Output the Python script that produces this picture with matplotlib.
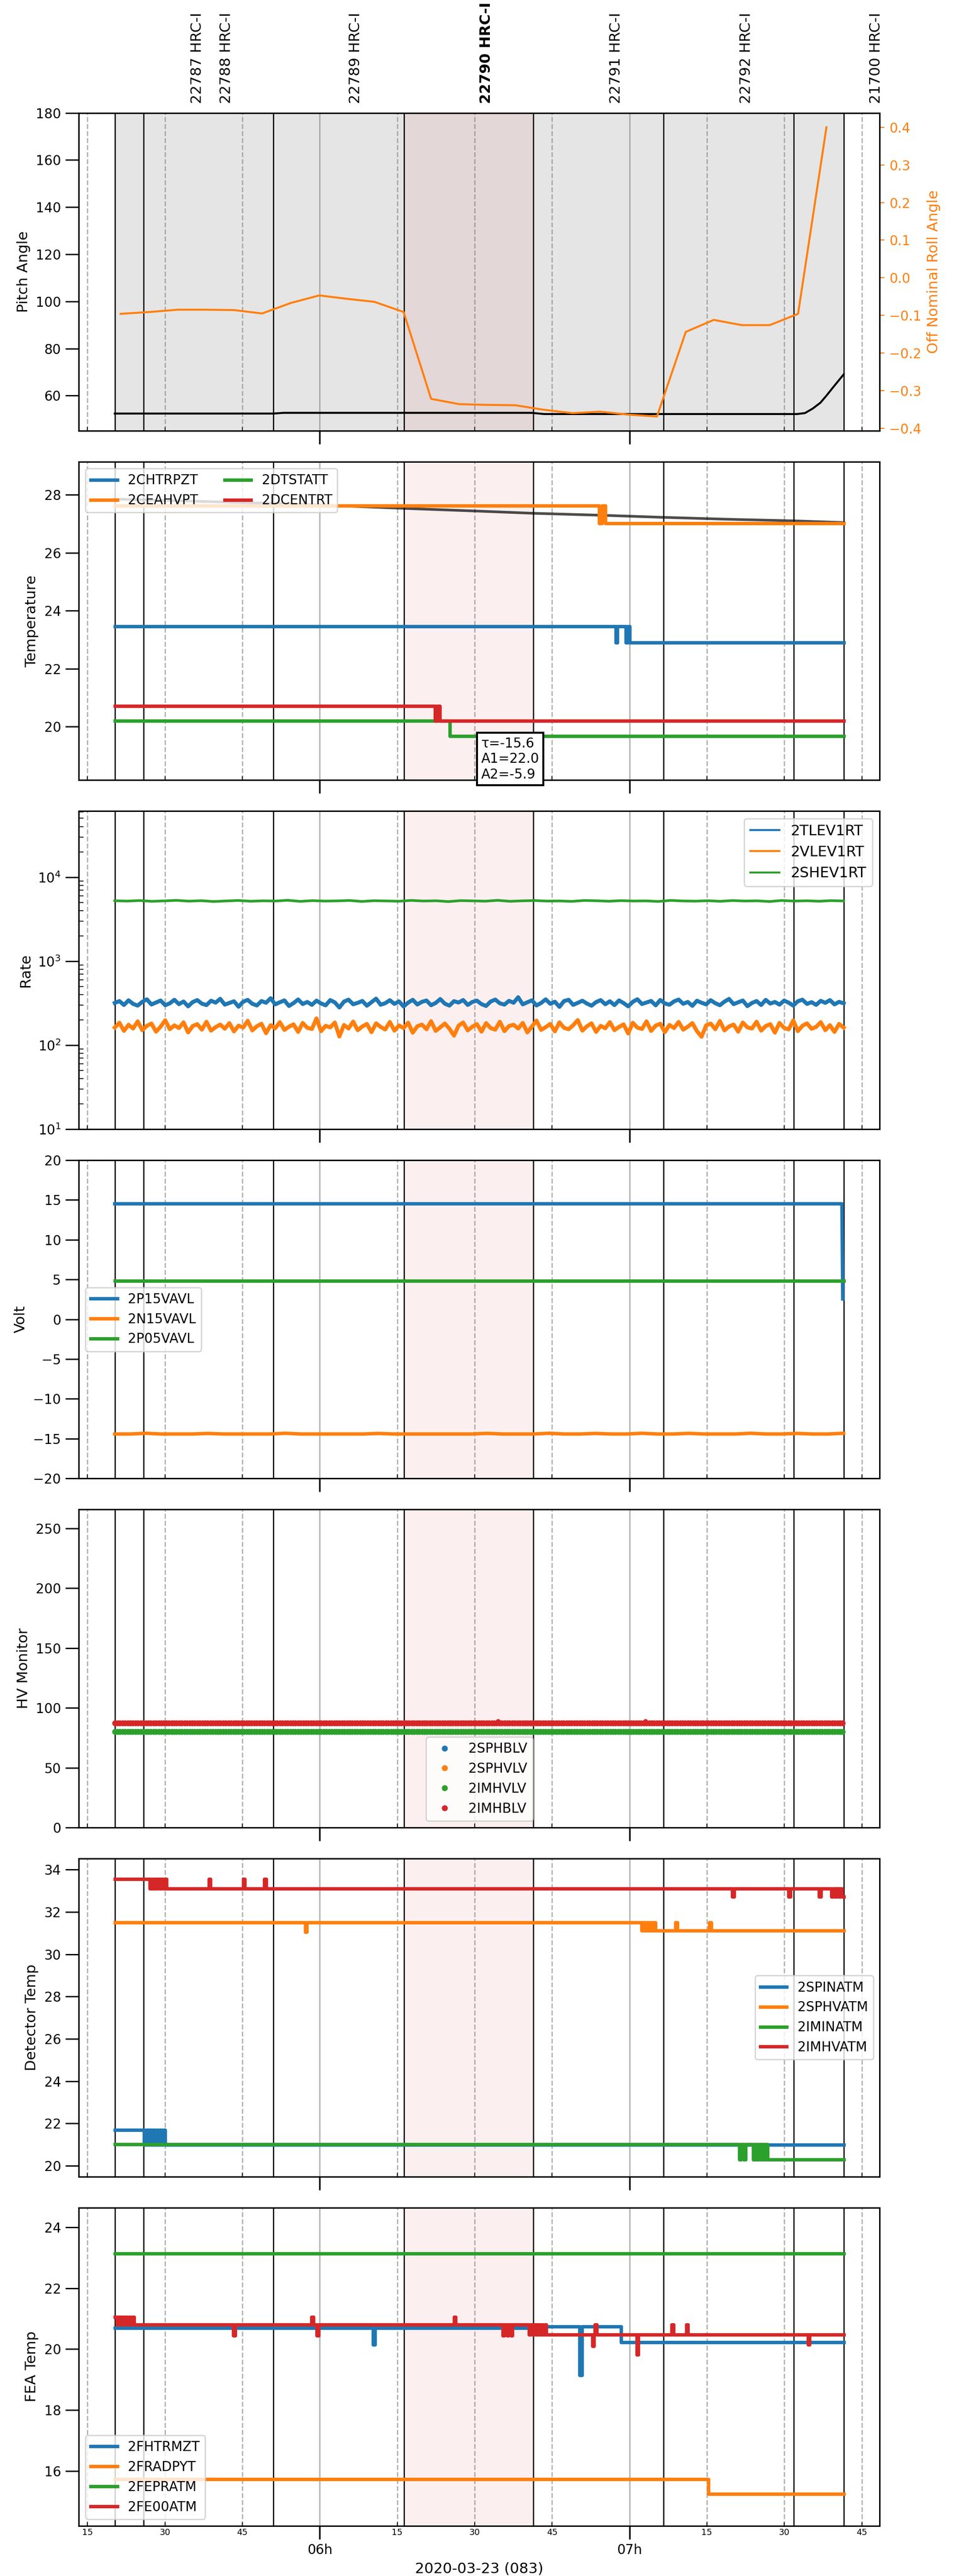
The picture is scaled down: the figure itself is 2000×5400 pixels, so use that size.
import matplotlib
matplotlib.use("Agg")
import matplotlib.pyplot as plt
import matplotlib.dates as mdates
import matplotlib.transforms as mtransforms
from matplotlib.ticker import MultipleLocator
import numpy as np
import pandas as pd

DAY = "2020-03-23 "
T_START = "05:20:18"
T_END = "07:41:30"
X_MIN = "05:13:21"
X_MAX = "07:48:30"

# observations
obsids = ["22787", "22788", "22789", "22790", "22791", "22792", "21700"]
obsid_start = ["05:20:18", "05:25:55", "05:51:00", "06:16:18", "06:41:24", "07:06:36", "07:31:48"]
obsid_label_at = ["05:36:18", "05:41:55", "06:07:00", "06:32:18", "06:57:24", "07:22:36", "07:47:48"]
hl_obsid = "22790"
hl_span = ["06:16:18", "06:41:24"]

# panel 1: pitch and roll
pitch_t = ["05:20:18", "05:51:00", "05:53:00", "06:41:00", "06:43:30", "07:32:30",
           "07:34:00", "07:35:30", "07:37:00", "07:38:10", "07:39:40", "07:41:30"]
pitch_v = [52.4, 52.4, 52.7, 52.7, 52.2, 52.2, 52.6, 54.5, 57.0, 60.0, 64.1, 69.0]
roll_t = ["05:21:25", "05:27:05", "05:32:30", "05:37:55", "05:43:25", "05:48:50", "05:54:25",
          "05:59:55", "06:05:15", "06:10:35", "06:16:15", "06:21:35", "06:27:00", "06:32:20",
          "06:37:55", "06:43:25", "06:49:00", "06:54:20", "06:59:50", "07:05:20", "07:10:55",
          "07:16:20", "07:21:45", "07:27:10", "07:32:40", "07:38:10"]
roll_v = [-0.096, -0.091, -0.085, -0.085, -0.086, -0.095, -0.067, -0.047, -0.056, -0.064,
          -0.091, -0.322, -0.336, -0.338, -0.339, -0.351, -0.360, -0.356, -0.364, -0.369,
          -0.144, -0.112, -0.126, -0.126, -0.096, 0.400]

# panel 2: temperature
tmodel_t = ["05:20:18", "05:35:00", "05:51:00", "06:05:00", "06:16:18", "06:30:00",
            "06:41:24", "06:55:00", "07:06:36", "07:20:00", "07:31:48", "07:41:30"]
tmodel_v = [27.85, 27.78, 27.70, 27.61, 27.53, 27.44, 27.36, 27.29, 27.22, 27.15, 27.10, 27.04]
chtrpzt_t = ["05:20:18", "06:57:20", "06:57:40", "06:59:20", "06:59:40", "07:00:00", "07:00:20", "07:41:30"]
chtrpzt_v = [23.47, 22.91, 23.47, 22.91, 23.47, 22.91, 22.91, 22.91]
ceahvpt_t = ["05:20:18", "06:54:10", "06:54:40", "06:55:20", "07:41:30"]
ceahvpt_v = [27.62, 27.01, 27.62, 27.01, 27.01]
dtstatt_t = ["05:20:18", "06:25:10", "07:41:30"]
dtstatt_v = [20.20, 19.68, 19.68]
dcentrt_t = ["05:20:18", "06:22:20", "06:22:45", "06:23:15", "07:41:30"]
dcentrt_v = [20.72, 20.20, 20.72, 20.20, 20.20]
fit_text = "τ=-15.6\nA1=22.0\nA2=-5.9"

# panel 3: rates (sampled evenly between T_START and T_END)
tlev1rt = [
    318, 335, 301, 342, 310, 296, 328, 351, 305, 322, 340, 299, 315, 347, 308, 331, 290, 326, 344, 312,
    300, 338, 321, 356, 304, 318, 333, 287, 329, 346, 311, 297, 335, 320, 362, 306, 324, 341, 293, 317,
    350, 309, 327, 302, 339, 314, 298, 344, 323, 281, 330, 348, 307, 319, 336, 295, 325, 358, 303, 316,
    343, 310, 332, 289, 321, 347, 305, 328, 340, 299, 318, 354, 312, 296, 334, 322, 345, 301, 327, 339,
    308, 293, 331, 349, 315, 304, 337, 320, 372, 306, 324, 342, 297, 318, 351, 311, 329, 286, 335, 347,
    302, 319, 338, 313, 295, 326, 344, 307, 333, 300, 341, 317, 290, 328, 352, 309, 322, 336, 298, 345,
    314, 303, 332, 349, 311, 327, 294, 338, 320, 306, 343, 316, 299, 330, 355, 308, 324, 340, 292, 318,
    335, 301, 346, 313, 327, 304, 339, 321, 296, 333, 348, 310, 325, 302, 337, 319, 344, 306, 328, 315]
vlev1rt = [
    162, 185, 148, 175, 158, 192, 151, 170, 181, 145, 166, 198, 155, 172, 160, 187, 142, 169, 178, 153,
    190, 149, 164, 176, 157, 183, 146, 171, 162, 195, 150, 168, 180, 139, 173, 159, 188, 152, 166, 177,
    144, 184, 161, 156, 208, 147, 170, 163, 186, 127, 174, 158, 191, 151, 167, 179, 143, 182, 165, 154,
    189, 149, 172, 160, 185, 141, 168, 176, 155, 193, 148, 163, 181, 157, 130, 171, 186, 150, 166, 178,
    145, 183, 160, 153, 190, 147, 169, 175, 158, 184, 142, 167, 196, 152, 164, 179, 146, 187, 161, 155,
    173, 199, 149, 168, 182, 144, 170, 159, 188, 151, 165, 177, 138, 185, 162, 156, 192, 148, 171, 180,
    143, 174, 160, 189, 153, 166, 183, 147, 126, 172, 181, 155, 194, 150, 167, 176, 145, 186, 163, 158,
    190, 149, 169, 178, 141, 184, 161, 154, 197, 147, 170, 182, 157, 165, 188, 151, 173, 144, 179, 162]
shev1rt = [
    5230, 5180, 5260, 5150, 5210, 5290, 5170, 5240, 5120, 5200, 5270, 5160, 5220, 5190, 5300, 5140,
    5250, 5180, 5210, 5270, 5130, 5240, 5200, 5160, 5280, 5190, 5230, 5110, 5250, 5210, 5170, 5290,
    5150, 5220, 5260, 5180, 5200, 5140, 5270, 5230, 5160, 5250, 5190, 5210, 5130, 5280, 5200, 5170,
    5240, 5150, 5260, 5190, 5220, 5120, 5270, 5180, 5230, 5160, 5250, 5200]

# panel 4: volts
p15vavl_t = ["05:20:18", "07:41:10", "07:41:20"]
p15vavl_v = [14.52, 14.52, 2.56]
p05vavl_t = ["05:20:18", "07:41:30"]
p05vavl_v = [4.84, 4.84]
n15vavl = [-14.42, -14.42, -14.33, -14.42, -14.42, -14.42, -14.35, -14.42, -14.42, -14.42, -14.42, -14.33,
           -14.42, -14.42, -14.42, -14.42, -14.42, -14.35, -14.42, -14.42, -14.42, -14.42, -14.42, -14.42,
           -14.34, -14.42, -14.42, -14.42, -14.33, -14.42, -14.42, -14.35, -14.42, -14.42, -14.33, -14.42,
           -14.42, -14.34, -14.42, -14.42, -14.42, -14.33, -14.42, -14.42, -14.35, -14.42, -14.42, -14.33]

# panel 5: HV monitor (30 s telemetry)
hv_cadence = "30s"
sphblv_level = []
sphvlv_level = []
imhvlv_level = 80.3
imhblv_level = 87.2
imhblv_bump_t = ["06:34:35", "07:03:05"]
imhblv_bump_v = [89.0, 89.0]

# panel 6: detector temps
spinatm_t = ["05:20:18", "05:26:00", "05:26:20", "05:26:40", "05:27:00", "05:27:20", "05:27:40", "05:28:00",
             "05:28:20", "05:28:40", "05:29:00", "05:29:20", "05:29:40", "05:30:00", "07:41:30"]
spinatm_v = [21.69, 20.99, 21.69, 20.99, 21.69, 20.99, 21.69, 20.99, 21.69, 20.99, 21.69, 20.99, 21.69, 20.99, 20.99]
sphvatm_t = ["05:20:18", "05:57:10", "05:57:30", "07:02:20", "07:02:40", "07:03:00", "07:03:20", "07:03:40",
             "07:04:00", "07:04:20", "07:04:40", "07:05:00", "07:08:55", "07:09:15", "07:15:30", "07:15:50", "07:41:30"]
sphvatm_v = [31.50, 31.05, 31.50, 31.12, 31.50, 31.12, 31.50, 31.12, 31.50, 31.12, 31.50, 31.12,
             31.50, 31.12, 31.50, 31.12, 31.12]
iminatm_t = ["05:20:18", "07:21:20", "07:21:40", "07:22:10", "07:22:30", "07:24:00", "07:24:20", "07:24:40",
             "07:25:00", "07:25:20", "07:25:40", "07:26:00", "07:26:20", "07:26:45", "07:41:30"]
iminatm_v = [21.00, 20.29, 21.00, 20.29, 21.00, 20.29, 21.00, 20.29, 21.00, 20.29, 21.00, 20.29, 21.00, 20.29, 20.29]
imhvatm_t = ["05:20:18", "05:27:05", "05:27:20", "05:27:40", "05:28:00", "05:28:20", "05:28:40", "05:29:00",
             "05:29:20", "05:29:40", "05:30:00", "05:30:20", "05:38:30", "05:38:50", "05:45:10", "05:45:30",
             "05:49:15", "05:49:35", "07:19:55", "07:20:15", "07:30:50", "07:31:10", "07:36:45", "07:37:05",
             "07:39:10", "07:39:30", "07:39:50", "07:40:10", "07:40:30", "07:40:50", "07:41:10", "07:41:30"]
imhvatm_v = [33.55, 33.10, 33.55, 33.10, 33.55, 33.10, 33.55, 33.10, 33.55, 33.10, 33.55, 33.10,
             33.55, 33.10, 33.55, 33.10, 33.55, 33.10, 32.72, 33.10, 32.72, 33.10, 32.72, 33.10,
             32.72, 33.10, 32.72, 33.10, 32.72, 33.10, 32.72, 32.72]

# panel 7: FEA temps
fhtrmzt_t = ["05:20:18", "06:10:20", "06:10:40", "06:41:00", "06:50:20", "06:50:50", "06:58:20", "07:41:30"]
fhtrmzt_v = [20.70, 20.15, 20.70, 20.74, 19.14, 20.74, 20.22, 20.22]
fradpyt_t = ["05:20:18", "07:15:20", "07:41:30"]
fradpyt_v = [15.73, 15.25, 15.25]
fepratm_t = ["05:20:18", "07:41:30"]
fepratm_v = [23.13, 23.13]
fe00atm_t = ["05:20:18", "05:20:40", "05:21:00", "05:21:20", "05:21:40", "05:22:00", "05:22:20", "05:22:40",
             "05:23:00", "05:23:20", "05:23:40", "05:24:00", "05:43:15", "05:43:35", "05:58:25", "05:58:45",
             "05:59:25", "05:59:45", "06:26:00", "06:26:20", "06:35:25", "06:35:45", "06:36:15", "06:36:35",
             "06:37:00", "06:37:20", "06:40:35", "06:40:55", "06:41:15", "06:41:35", "06:41:55", "06:42:15",
             "06:42:35", "06:42:55", "06:43:15", "06:43:35", "06:43:55", "06:52:50", "06:53:05", "06:53:20",
             "06:53:40", "07:01:25", "07:01:45", "07:08:10", "07:08:30", "07:11:00", "07:11:20", "07:34:35",
             "07:34:55", "07:41:30"]
fe00atm_v = [21.05, 20.81, 21.05, 20.81, 21.05, 20.81, 21.05, 20.81, 21.05, 20.81, 21.05, 20.81,
             20.45, 20.81, 21.05, 20.81, 20.45, 20.81, 21.05, 20.81, 20.45, 20.81, 20.45, 20.81,
             20.45, 20.81, 20.47, 20.81, 20.47, 20.81, 20.47, 20.81, 20.47, 20.81, 20.47, 20.81,
             20.47, 20.10, 20.47, 20.81, 20.47, 19.82, 20.47, 20.81, 20.47, 20.81, 20.47, 20.15,
             20.47, 20.47]


def tt(times):
    return pd.to_datetime([DAY + t for t in times])


def even(values):
    return pd.date_range(DAY + T_START, DAY + T_END, periods=len(values))


plt.rcParams["font.size"] = 10
plt.rcParams["axes.linewidth"] = 1.1

fig, axes = plt.subplots(7, 1, figsize=(10, 27), dpi=200, sharex=True,
                         gridspec_kw=dict(hspace=0.0973))
fig.subplots_adjust(left=0.0827, right=0.9222, top=0.9562, bottom=0.0195)
ax1, ax2, ax3, ax4, ax5, ax6, ax7 = axes

for ax in axes:
    ax.axvspan(tt(hl_span)[0], tt(hl_span)[1], color="C3", alpha=0.07, lw=0, zorder=0.8)
    for t in obsid_start + [T_END]:
        ax.axvline(tt([t])[0], color="k", lw=0.9, zorder=1.2)
    ax.xaxis.set_major_locator(mdates.HourLocator())
    ax.xaxis.set_minor_locator(mdates.MinuteLocator(byminute=[15, 30, 45]))
    ax.grid(True, which="major", axis="x", color="0.7", lw=1, ls="-")
    ax.grid(True, which="minor", axis="x", color="0.7", lw=1, ls="--")
    ax.set_axisbelow(True)
    ax.tick_params(axis="x", which="major", length=10, width=1.2)
    ax.tick_params(axis="x", which="minor", length=3, direction="in")
    ax.tick_params(axis="y", which="major", length=10, width=1, labelsize=10)

ax1.set_xlim(tt([X_MIN])[0], tt([X_MAX])[0])

# panel 1
ax1.axvspan(tt([T_START])[0], tt([T_END])[0], color="gray", alpha=0.2, lw=0, zorder=0.7)
ax1.plot(tt(pitch_t), pitch_v, color="k", lw=1.5, zorder=3)
ax1.set_ylim(45, 180)
ax1.set_ylabel("Pitch Angle", fontsize=11)
trans = mtransforms.blended_transform_factory(ax1.transData, ax1.transAxes)
for ob, lt in zip(obsids, obsid_label_at):
    ax1.text(tt([lt])[0], 1.03, ob + " HRC-I", transform=trans, rotation=90,
             ha="center", va="bottom", fontsize=11,
             fontweight="bold" if ob == hl_obsid else "normal")
ax1r = ax1.twinx()
ax1r.plot(tt(roll_t), roll_v, color="C1", lw=1.5)
ax1r.set_ylabel("Off Nominal Roll Angle", color="C1", fontsize=11)
ax1r.tick_params(axis="y", colors="C1", labelsize=10)

# panel 2
ax2.plot(tt(tmodel_t), tmodel_v, color="k", alpha=0.7, lw=2, zorder=2)
ax2.plot(tt(chtrpzt_t), chtrpzt_v, color="C0", lw=2.6, drawstyle="steps-post", label="2CHTRPZT")
ax2.plot(tt(ceahvpt_t), ceahvpt_v, color="C1", lw=2.6, drawstyle="steps-post", label="2CEAHVPT")
ax2.plot(tt(dtstatt_t), dtstatt_v, color="C2", lw=2.6, drawstyle="steps-post", label="2DTSTATT")
ax2.plot(tt(dcentrt_t), dcentrt_v, color="C3", lw=2.6, drawstyle="steps-post", label="2DCENTRT")
ax2.set_ylim(18.16, 29.13)
ax2.set_ylabel("Temperature", fontsize=11)
ax2.legend(loc="upper left", ncol=2, fontsize=10)
ax2.text(tt(["06:31:15"])[0], 19.65, fit_text, va="top", ha="left", fontsize=10,
         bbox=dict(boxstyle="square,pad=0.3", fc="white", ec="black", lw=1.5),
         zorder=10, clip_on=False)

# panel 3
ax3.plot(even(tlev1rt), tlev1rt, color="C0", lw=3, label="2TLEV1RT")
ax3.plot(even(vlev1rt), vlev1rt, color="C1", lw=3, label="2VLEV1RT")
ax3.plot(even(shev1rt), shev1rt, color="C2", lw=2, label="2SHEV1RT")
ax3.set_yscale("log")
ax3.set_ylim(10, 6.1e4)
ax3.tick_params(axis="y", which="minor", direction="in", length=3.5)
ax3.set_ylabel("Rate", fontsize=11)
leg = ax3.legend(loc="upper right", fontsize=11)
for h in leg.get_lines():
    h.set_linewidth(1.5)

# panel 4
ax4.plot(tt(p15vavl_t), p15vavl_v, color="C0", lw=2.6, label="2P15VAVL")
ax4.plot(even(n15vavl), n15vavl, color="C1", lw=2.6, label="2N15VAVL")
ax4.plot(tt(p05vavl_t), p05vavl_v, color="C2", lw=2.6, label="2P05VAVL")
ax4.set_ylim(-20, 20)
ax4.yaxis.set_major_locator(MultipleLocator(5))
ax4.set_ylabel("Volt", fontsize=11)
ax4.legend(loc="center left", fontsize=10)

# panel 5
hv_t = pd.date_range(DAY + T_START, DAY + T_END, freq=hv_cadence)
ax5.plot(tt(sphblv_level), sphblv_level, ".", color="C0", ms=7, label="2SPHBLV")
ax5.plot(tt(sphvlv_level), sphvlv_level, ".", color="C1", ms=7, label="2SPHVLV")
ax5.plot(hv_t, np.full(len(hv_t), imhvlv_level), ".", color="C2", ms=7, label="2IMHVLV")
ax5.plot(hv_t, np.full(len(hv_t), imhblv_level), ".", color="C3", ms=7, label="2IMHBLV")
ax5.plot(tt(imhblv_bump_t), imhblv_bump_v, ".", color="C3", ms=5)
ax5.set_ylim(0, 266)
ax5.set_ylabel("HV Monitor", fontsize=11)
ax5.legend(loc="lower center", fontsize=10)

# panel 6
ax6.plot(tt(spinatm_t), spinatm_v, color="C0", lw=2.6, drawstyle="steps-post", label="2SPINATM")
ax6.plot(tt(sphvatm_t), sphvatm_v, color="C1", lw=2.6, drawstyle="steps-post", label="2SPHVATM")
ax6.plot(tt(iminatm_t), iminatm_v, color="C2", lw=2.6, drawstyle="steps-post", label="2IMINATM")
ax6.plot(tt(imhvatm_t), imhvatm_v, color="C3", lw=2.6, drawstyle="steps-post", label="2IMHVATM")
ax6.set_ylim(19.48, 34.53)
ax6.set_ylabel("Detector Temp", fontsize=11)
ax6.legend(loc="center right", fontsize=10)

# panel 7
ax7.plot(tt(fhtrmzt_t), fhtrmzt_v, color="C0", lw=2.6, drawstyle="steps-post", label="2FHTRMZT")
ax7.plot(tt(fradpyt_t), fradpyt_v, color="C1", lw=2.6, drawstyle="steps-post", label="2FRADPYT")
ax7.plot(tt(fepratm_t), fepratm_v, color="C2", lw=2.6, drawstyle="steps-post", label="2FEPRATM")
ax7.plot(tt(fe00atm_t), fe00atm_v, color="C3", lw=2.6, drawstyle="steps-post", label="2FE00ATM")
ax7.set_ylim(14.21, 24.64)
ax7.set_ylabel("FEA Temp", fontsize=11)
ax7.legend(loc="lower left", fontsize=10)

ax7.xaxis.set_major_formatter(mdates.DateFormatter("%Hh"))
ax7.xaxis.set_minor_formatter(mdates.DateFormatter("%M"))
ax7.tick_params(axis="x", which="minor", labelsize=6.5, pad=2)
ax7.tick_params(axis="x", which="major", labelsize=10)
ax7.set_xlabel("2020-03-23 (083)", fontsize=11)

fig.savefig("out.png", dpi=200)
